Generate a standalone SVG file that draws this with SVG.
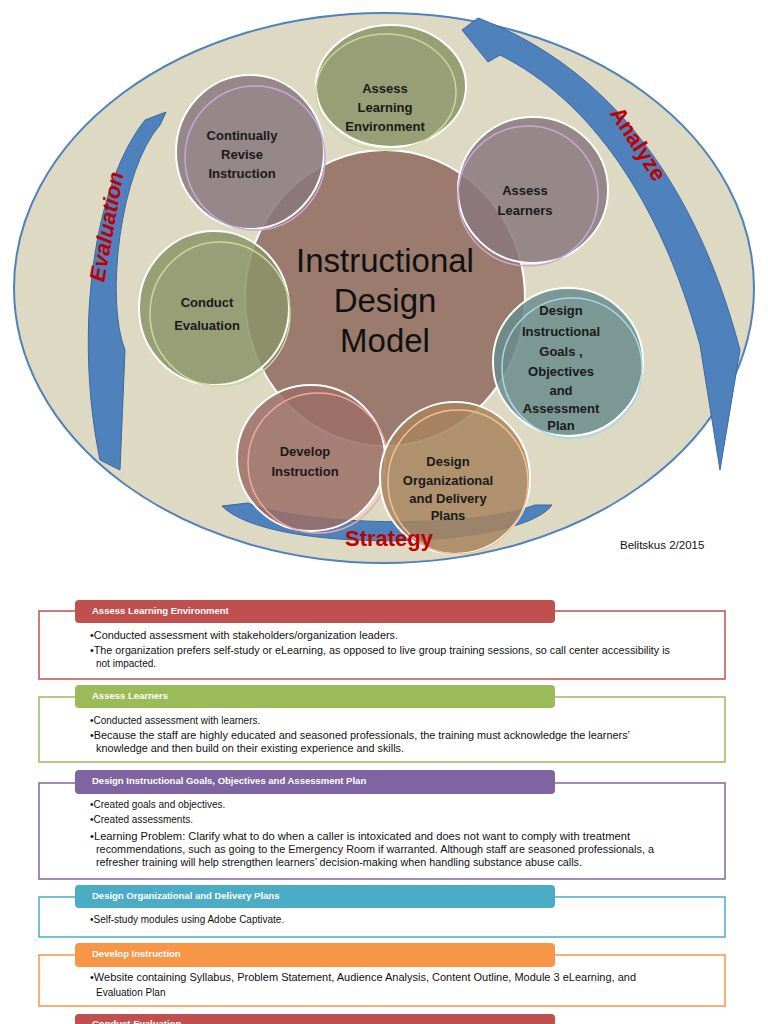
<svg xmlns="http://www.w3.org/2000/svg" width="768" height="1024" viewBox="0 0 768 1024">
<style>
.sat{stroke:#fff;stroke-width:2;fill-opacity:0.85}
.lbl{font-family:"Liberation Sans",Arial,sans-serif;font-weight:bold;font-size:13px;fill:#1a1a1a;text-anchor:middle}
.arr{fill:#4f81bd;stroke:#3a6aa0;stroke-width:1}
.big{font-family:"Liberation Sans",Arial,sans-serif;font-weight:bold;font-size:22px;fill:#c00000;text-anchor:middle}
.hd{font-family:"Liberation Sans",Arial,sans-serif;font-weight:bold;font-size:9.5px;fill:#fff}
.bt{font-family:"Liberation Sans",Arial,sans-serif;font-size:10px;fill:#111}
.box{fill:#fff;stroke-width:1.5}
</style>
<rect width="768" height="1024" fill="#fff"/>
<g id="frame"><ellipse cx="384" cy="288" rx="370" ry="275" fill="#ddd9c3" stroke="#4f81bd" stroke-width="2"/></g>
<g id="arrows">
<path class="arr" d="M462,30 L478,18 C590,60 690,160 740,350 L720,470 L700,345 C660,200 590,100 500,55 L488,62 Z"/>
<path class="arr" d="M166,112 L160,125 C120,170 105,300 125,350 L120,470 L100,460 C75,340 90,190 145,120 Z"/>
<path class="arr" d="M222,506 L248,503 C300,525 470,530 535,505 L552,505 C520,550 270,555 222,506 Z"/>
</g>
<g id="center"><ellipse cx="385" cy="298" rx="140" ry="148" fill="#9b7b6e" stroke="#fff" stroke-width="2"/>
<text font-family="Liberation Sans,Arial,sans-serif" font-size="33" fill="#111" text-anchor="middle"><tspan x="385" y="272">Instructional</tspan><tspan x="385" y="312">Design</tspan><tspan x="385" y="352">Model</tspan></text></g>
<g id="n1"><ellipse class="sat" cx="391" cy="86" rx="75" ry="61" fill="#8c9468"/><ellipse cx="386" cy="92" rx="70" ry="58" fill="none" stroke="#c8d8a0" stroke-width="1.5"/>
<text class="lbl"><tspan x="385" y="93">Assess</tspan><tspan x="385" y="112">Learning</tspan><tspan x="385" y="131">Environment</tspan></text></g>
<g id="n2"><ellipse class="sat" cx="250" cy="152" rx="74" ry="77" fill="#8a787e"/><ellipse cx="255" cy="158" rx="70" ry="72" fill="none" stroke="#c8a8d8" stroke-width="1.5"/>
<text class="lbl"><tspan x="242" y="140">Continually</tspan><tspan x="242" y="159">Revise</tspan><tspan x="242" y="178">Instruction</tspan></text></g>
<g id="n3"><ellipse class="sat" cx="533" cy="190" rx="75" ry="73" fill="#8a787e"/><ellipse cx="528" cy="196" rx="70" ry="70" fill="none" stroke="#c8a8d8" stroke-width="1.5"/>
<text class="lbl"><tspan x="525" y="195">Assess</tspan><tspan x="525" y="215">Learners</tspan></text></g>
<g id="n4"><ellipse class="sat" cx="214" cy="308" rx="75" ry="77" fill="#8c9468"/><ellipse cx="220" cy="314" rx="70" ry="72" fill="none" stroke="#c8d8a0" stroke-width="1.5"/>
<text class="lbl"><tspan x="207" y="307">Conduct</tspan><tspan x="207" y="330">Evaluation</tspan></text></g>
<g id="n5"><ellipse class="sat" cx="568" cy="362" rx="75" ry="74" fill="#6a8c8c"/><ellipse cx="572" cy="368" rx="70" ry="70" fill="none" stroke="#a8d8e8" stroke-width="1.5"/>
<text class="lbl"><tspan x="561" y="315">Design</tspan><tspan x="561" y="336">Instructional</tspan><tspan x="561" y="356">Goals ,</tspan><tspan x="561" y="376">Objectives</tspan><tspan x="561" y="395">and</tspan><tspan x="561" y="413">Assessment</tspan><tspan x="561" y="430">Plan</tspan></text></g>
<g id="n6"><ellipse class="sat" cx="311" cy="458" rx="74" ry="73" fill="#9b6e66"/><ellipse cx="318" cy="463" rx="70" ry="70" fill="none" stroke="#f0a8a0" stroke-width="1.5"/>
<text class="lbl"><tspan x="305" y="456">Develop</tspan><tspan x="305" y="476">Instruction</tspan></text></g>
<g id="n7"><ellipse class="sat" cx="455" cy="478" rx="75" ry="76" fill="#a8845e"/><ellipse cx="458" cy="482" rx="70" ry="72" fill="none" stroke="#f0c090" stroke-width="1.5"/>
<text class="lbl" font-size="12"><tspan x="448" y="466">Design</tspan><tspan x="448" y="485">Organizational</tspan><tspan x="448" y="503">and Delivery</tspan><tspan x="448" y="520">Plans</tspan></text></g>
<text class="big" transform="translate(114,228) rotate(-80)" font-style="italic">Evaluation</text>
<text class="big" transform="translate(632,148) rotate(57)">Analyze</text>
<text class="big" x="389" y="546">Strategy</text>
<text font-family="Liberation Sans,Arial,sans-serif" font-size="11.5" fill="#111" x="620" y="549">Belitskus  2/2015</text>

<g id="b1"><rect class="box" x="39" y="611" width="686" height="68" stroke="#c0504d"/><rect x="75" y="600" width="480" height="23" rx="4" fill="#c0504d"/>
<text class="hd" x="92" y="614">Assess Learning Environment</text>
<text class="bt" x="90" y="639" textLength="308" lengthAdjust="spacingAndGlyphs">•Conducted assessment with stakeholders/organization leaders.</text>
<text class="bt" x="90" y="654" textLength="580" lengthAdjust="spacingAndGlyphs">•The organization prefers self-study or eLearning, as opposed to live group training sessions, so call center accessibility is</text>
<text class="bt" x="96" y="667">not impacted.</text></g>
<g id="b2"><rect class="box" x="39" y="697" width="686" height="65" stroke="#9bbb59"/><rect x="75" y="685" width="480" height="23" rx="4" fill="#9bbb59"/>
<text class="hd" x="92" y="699">Assess Learners</text>
<text class="bt" x="90" y="724">•Conducted assessment with learners.</text>
<text class="bt" x="90" y="739" textLength="540" lengthAdjust="spacingAndGlyphs">•Because the staff are highly educated and seasoned professionals, the training must acknowledge the learners’</text>
<text class="bt" x="96" y="752" textLength="308" lengthAdjust="spacingAndGlyphs">knowledge and then build on their existing experience and skills.</text></g>
<g id="b3"><rect class="box" x="39" y="783" width="686" height="96" stroke="#8064a2"/><rect x="75" y="770" width="480" height="24" rx="4" fill="#8064a2"/>
<text class="hd" x="92" y="784">Design Instructional Goals, Objectives  and Assessment Plan</text>
<text class="bt" x="90" y="808">•Created goals and objectives.</text>
<text class="bt" x="90" y="823">•Created assessments.</text>
<text class="bt" x="90" y="840" textLength="540" lengthAdjust="spacingAndGlyphs">•Learning Problem:  Clarify what to do when a caller is intoxicated and does not want to comply with treatment</text>
<text class="bt" x="96" y="853" textLength="558" lengthAdjust="spacingAndGlyphs">recommendations, such as going to the Emergency Room if warranted.  Although staff are seasoned professionals, a</text>
<text class="bt" x="96" y="866" textLength="486" lengthAdjust="spacingAndGlyphs">refresher training will help strengthen learners’ decision-making when handling substance abuse calls.</text></g>
<g id="b4"><rect class="box" x="39" y="897" width="686" height="40" stroke="#4bacc6"/><rect x="75" y="885" width="480" height="23" rx="4" fill="#4bacc6"/>
<text class="hd" x="92" y="899">Design Organizational and Delivery Plans</text>
<text class="bt" x="90" y="923">•Self-study modules using Adobe Captivate.</text></g>
<g id="b5"><rect class="box" x="39" y="955" width="686" height="51" stroke="#f79646"/><rect x="75" y="943" width="480" height="24" rx="4" fill="#f79646"/>
<text class="hd" x="92" y="957">Develop Instruction</text>
<text class="bt" x="90" y="981" textLength="546" lengthAdjust="spacingAndGlyphs">•Website containing Syllabus,  Problem Statement, Audience Analysis, Content Outline, Module 3 eLearning,  and</text>
<text class="bt" x="96" y="996">Evaluation Plan</text></g>
<g id="b6"><rect x="75" y="1014" width="480" height="24" rx="4" fill="#c0504d"/>
<text class="hd" x="92" y="1027">Conduct Evaluation</text></g>
</svg>
